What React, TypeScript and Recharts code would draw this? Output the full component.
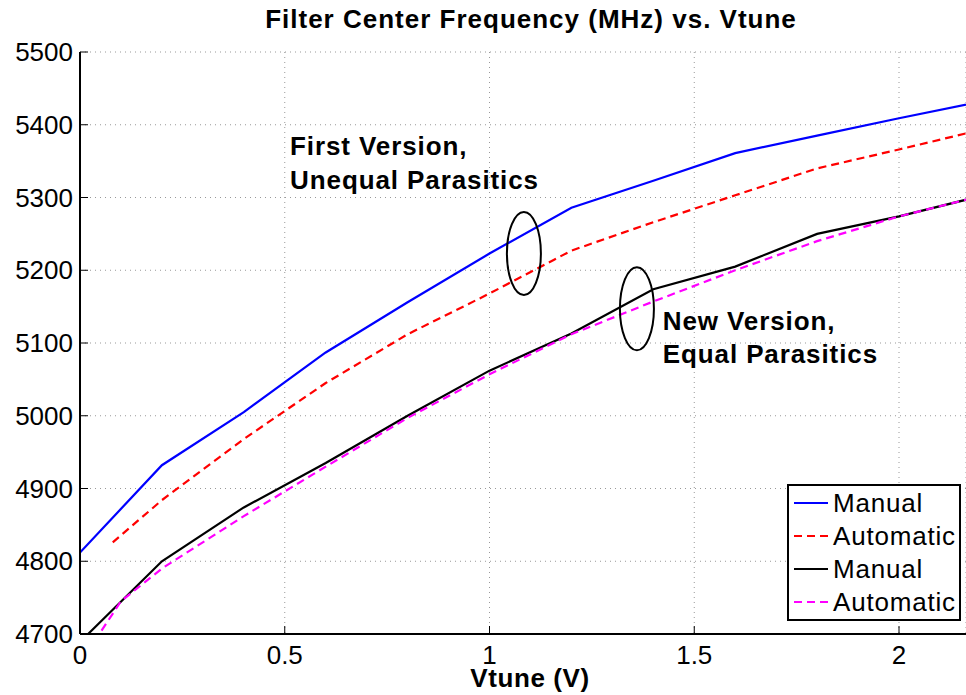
import { LineChart, Line, XAxis, YAxis, CartesianGrid, Legend, ReferenceDot } from 'recharts';

const FONT = '"Liberation Sans", Arial, Helvetica, sans-serif';

// Vtune sample points (V)
const vtune = [0, 0.2, 0.4, 0.6, 0.8, 1.0, 1.2, 1.4, 1.6, 1.8, 2.0, 2.2];
const firstAutoVtune = [0.08, 0.2, 0.4, 0.6, 0.8, 1.0, 1.2, 1.4, 1.6, 1.8, 2.0, 2.2];
const newAutoVtune = [0, 0.1, 0.2, 0.4, 0.6, 0.8, 1.0, 1.2, 1.4, 1.6, 1.8, 2.0, 2.2];

// center frequency (MHz)
const firstManual = [4812, 4932, 5005, 5087, 5156, 5223, 5286, 5323, 5361, 5385, 5409, 5432];
const firstAuto = [4826, 4884, 4968, 5045, 5112, 5168, 5227, 5266, 5303, 5340, 5366, 5393];
const newManual = [4689, 4800, 4874, 4935, 5000, 5062, 5113, 5174, 5205, 5250, 5274, 5302];
const newAuto = [4660, 4745, 4790, 4862, 4930, 4997, 5057, 5112, 5157, 5200, 5240, 5274, 5302];

const xTicks = [0, 0.5, 1, 1.5, 2];
const yTicks = [4700, 4800, 4900, 5000, 5100, 5200, 5300, 5400, 5500];

const annotations = [
  { x: 0.513, y: 5358, lines: ['First Version,', 'Unequal Parasitics'] },
  { x: 1.423, y: 5118, lines: ['New Version,', 'Equal Parasitics'] },
];
const ellipses = [
  { x: 1.084, y: 5223 },
  { x: 1.36, y: 5147 },
];

const toPoints = (xs: number[], ys: number[]) => xs.map((x, i) => ({ v: x, f: ys[i] }));

const series = [
  { key: 'fm', name: 'Manual', color: '#0000ff', dash: undefined, data: toPoints(vtune, firstManual) },
  { key: 'fa', name: 'Automatic', color: '#ff0000', dash: '8 5', data: toPoints(firstAutoVtune, firstAuto) },
  { key: 'nm', name: 'Manual', color: '#000000', dash: undefined, data: toPoints(vtune, newManual) },
  { key: 'na', name: 'Automatic', color: '#ff00ff', dash: '8 5', data: toPoints(newAutoVtune, newAuto) },
];

function LegendBox() {
  return (
    <div style={{ width: 170, height: 133, border: '2px solid #000', background: '#fff' }}>
      <svg width={170} height={133}>
        {series.map((s, i) => (
          <g key={s.key}>
            <line x1={5} x2={39} y1={17 + i * 33} y2={17 + i * 33} stroke={s.color} strokeWidth={2} strokeDasharray={s.dash} />
            <text x={44} y={17 + i * 33} dy="0.355em" fontFamily={FONT} fontSize={26} letterSpacing={0.8} fill="#000">
              {s.name}
            </text>
          </g>
        ))}
      </svg>
    </div>
  );
}

export default function App() {
  return (
    <div style={{ position: 'absolute', left: 0, top: 0, width: 966, height: 695, background: '#fff' }}>
      <LineChart width={966} height={695} margin={{ top: 52, right: 0, left: 0, bottom: 0 }}>
        <CartesianGrid stroke="#999" strokeDasharray="1 4" />
        <XAxis
          dataKey="v"
          type="number"
          domain={[0, 2.1636]}
          allowDataOverflow
          ticks={xTicks}
          height={61}
          tickSize={-8}
          tickMargin={20}
          axisLine={{ stroke: '#000', strokeWidth: 2 }}
          tickLine={{ stroke: '#000', strokeWidth: 1 }}
          tick={{ fill: '#000', fontSize: 26, fontFamily: FONT }}
          label={{
            content: ({ viewBox }: any) => (
              <text x={viewBox.x + viewBox.width / 2 + 7} y={viewBox.y + 53} textAnchor="middle" fontFamily={FONT} fontSize={26} fontWeight="bold" letterSpacing={0.6} fill="#000">
                Vtune (V)
              </text>
            ),
          }}
        />
        <XAxis
          xAxisId="top"
          orientation="top"
          dataKey="v"
          type="number"
          domain={[0, 2.1636]}
          allowDataOverflow
          ticks={xTicks}
          height={0}
          tickSize={-7}
          tickFormatter={() => ''}
          axisLine={{ stroke: '#000', strokeWidth: 2 }}
          tickLine={{ stroke: '#000', strokeWidth: 1 }}
        />
        <YAxis
          type="number"
          domain={[4700, 5500]}
          allowDataOverflow
          ticks={yTicks}
          width={80}
          tickSize={-8}
          tickMargin={15}
          axisLine={{ stroke: '#000', strokeWidth: 2 }}
          tickLine={{ stroke: '#000', strokeWidth: 1 }}
          tick={{ fill: '#000', fontSize: 26, fontFamily: FONT }}
        />
        {series.map((s) => (
          <Line
            key={s.key}
            data={s.data}
            dataKey="f"
            name={s.name}
            type="linear"
            stroke={s.color}
            strokeWidth={2.2}
            strokeDasharray={s.dash}
            dot={false}
            activeDot={false}
            isAnimationActive={false}
          />
        ))}
        {ellipses.map((e, i) => (
          <ReferenceDot
            key={'e' + i}
            x={e.x}
            y={e.y}
            shape={(p: any) => <ellipse cx={p.cx} cy={p.cy} rx={17} ry={41.5} fill="none" stroke="#000" strokeWidth={2} />}
          />
        ))}
        {annotations.map((a, i) => (
          <ReferenceDot
            key={'a' + i}
            x={a.x}
            y={a.y}
            shape={(p: any) => (
              <text x={p.cx} y={p.cy} fontFamily={FONT} fontSize={26} fontWeight="bold" letterSpacing={0.9} fill="#000">
                {a.lines.map((l, j) => (
                  <tspan key={j} x={p.cx} dy={j === 0 ? 0 : 33.5}>
                    {l}
                  </tspan>
                ))}
              </text>
            )}
          />
        ))}
        <Legend
          layout="vertical"
          align="center"
          verticalAlign="middle"
          wrapperStyle={{ left: 787, top: 484, width: 174 }}
          content={() => <LegendBox />}
        />
      </LineChart>
      <svg width={966} height={50} style={{ position: 'absolute', left: 0, top: 0, pointerEvents: 'none' }}>
        <text x={531} y={28} textAnchor="middle" fontFamily={FONT} fontSize={26} fontWeight="bold" letterSpacing={1} fill="#000">
          Filter Center Frequency (MHz) vs. Vtune
        </text>
      </svg>
    </div>
  );
}
